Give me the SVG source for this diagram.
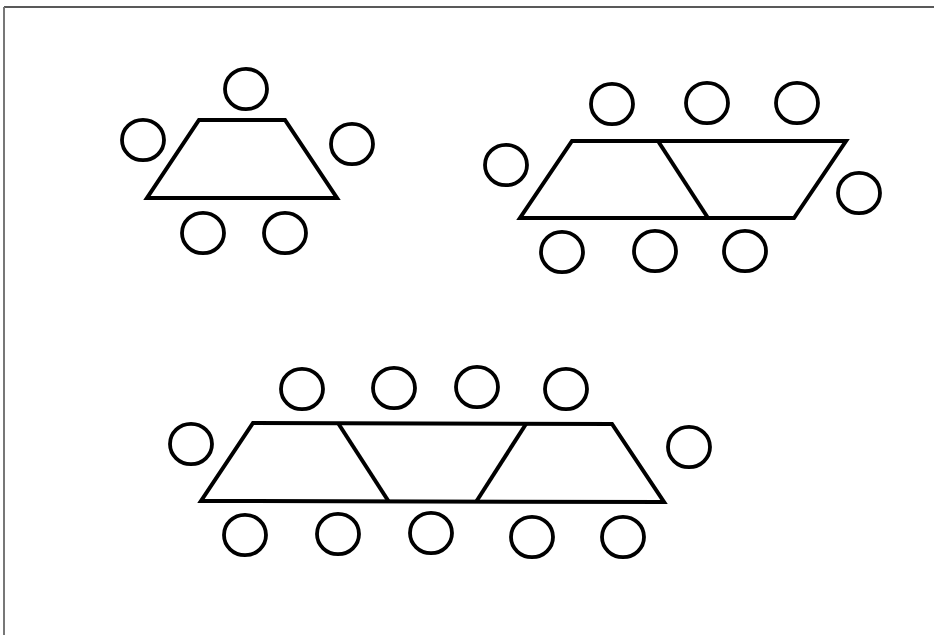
<svg xmlns="http://www.w3.org/2000/svg" width="934" height="635" viewBox="0 0 934 635">
<style>
.t{fill:none;stroke:#000;stroke-width:4;stroke-linejoin:miter}
.c{fill:none;stroke:#000;stroke-width:3.8}
</style>
<defs><ellipse id="ch" class="c" cx="0" cy="0" rx="21" ry="20.2"/></defs>
<rect width="934" height="635" fill="#fff"/>
<line x1="4" y1="7" x2="934" y2="7" stroke="#222" stroke-width="1.3"/>
<line x1="4" y1="7" x2="4" y2="635" stroke="#777" stroke-width="2"/>
<g id="connectors"/>
<g id="table1"><polygon class="t" points="199,120 285,120 337,198 147,198"/></g>
<g id="t1c1"><use href="#ch" x="246" y="89"/></g>
<g id="t1c2"><use href="#ch" x="143" y="140"/></g>
<g id="t1c3"><use href="#ch" x="352" y="144"/></g>
<g id="t1c4"><use href="#ch" x="203" y="233"/></g>
<g id="t1c5"><use href="#ch" x="285" y="233"/></g>
<g id="table2"><polygon class="t" points="572,141 846,141 794,218 520,218"/><line class="t" x1="658" y1="141" x2="708" y2="218"/></g>
<g id="t2c1"><use href="#ch" x="612" y="104"/></g>
<g id="t2c2"><use href="#ch" x="707" y="103"/></g>
<g id="t2c3"><use href="#ch" x="797" y="103"/></g>
<g id="t2c4"><use href="#ch" x="506" y="165"/></g>
<g id="t2c5"><use href="#ch" x="859" y="193"/></g>
<g id="t2c6"><use href="#ch" x="562" y="252"/></g>
<g id="t2c7"><use href="#ch" x="655" y="251"/></g>
<g id="t2c8"><use href="#ch" x="745" y="251"/></g>
<g id="table3"><polygon class="t" points="253,423 612,424 664,502 201,501"/><line class="t" x1="338" y1="423" x2="389" y2="502"/><line class="t" x1="526" y1="424" x2="476" y2="502"/></g>
<g id="t3c1"><use href="#ch" x="302" y="389"/></g>
<g id="t3c2"><use href="#ch" x="394" y="388"/></g>
<g id="t3c3"><use href="#ch" x="477" y="387"/></g>
<g id="t3c4"><use href="#ch" x="566" y="389"/></g>
<g id="t3c5"><use href="#ch" x="191" y="444"/></g>
<g id="t3c6"><use href="#ch" x="689" y="447"/></g>
<g id="t3c7"><use href="#ch" x="245" y="535"/></g>
<g id="t3c8"><use href="#ch" x="338" y="534"/></g>
<g id="t3c9"><use href="#ch" x="431" y="533"/></g>
<g id="t3c10"><use href="#ch" x="532" y="537"/></g>
<g id="t3c11"><use href="#ch" x="623" y="537"/></g>
</svg>
